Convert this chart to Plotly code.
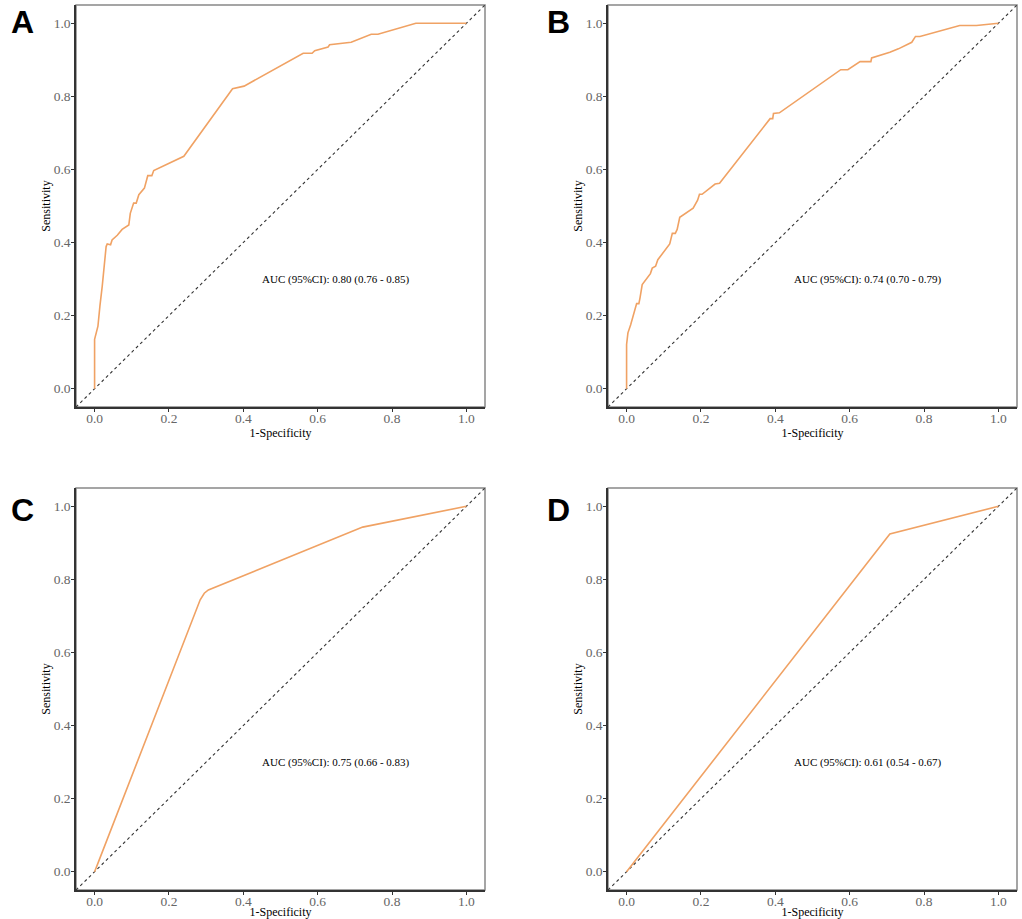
import plotly.graph_objects as go

# ---- data ----
a_fpr = [0, 0, 0.009, 0.0125, 0.0143, 0.0205, 0.028, 0.031, 0.034, 0.043, 0.047, 0.061, 0.074, 0.092,
         0.096, 0.105, 0.112, 0.119, 0.134, 0.143, 0.154, 0.159, 0.24, 0.371, 0.402, 0.561, 0.585,
         0.592, 0.628, 0.632, 0.69, 0.744, 0.762, 0.864, 1.0]
a_tpr = [0, 0.135, 0.171, 0.22, 0.226, 0.28, 0.352, 0.389, 0.396, 0.394, 0.407, 0.42, 0.436, 0.448,
         0.48, 0.508, 0.508, 0.531, 0.549, 0.583, 0.583, 0.597, 0.636, 0.821, 0.828, 0.918, 0.918,
         0.925, 0.935, 0.941, 0.948, 0.97, 0.97, 1.0, 1.0]

b_fpr = [0, 0, 0.0036, 0.011, 0.027, 0.033, 0.036, 0.039, 0.042, 0.064, 0.069, 0.078, 0.084, 0.116,
         0.123, 0.131, 0.136, 0.143, 0.179, 0.191, 0.196, 0.203, 0.238, 0.25, 0.386, 0.393, 0.395,
         0.411, 0.576, 0.595, 0.626, 0.628, 0.657, 0.659, 0.708, 0.731, 0.767, 0.777, 0.789, 0.896,
         0.941, 1.0]
b_tpr = [0, 0.121, 0.153, 0.175, 0.233, 0.233, 0.248, 0.262, 0.285, 0.315, 0.33, 0.335, 0.353, 0.396,
         0.425, 0.425, 0.436, 0.469, 0.494, 0.516, 0.532, 0.532, 0.56, 0.562, 0.739, 0.739, 0.753,
         0.755, 0.873, 0.873, 0.894, 0.895, 0.895, 0.905, 0.921, 0.93, 0.948, 0.964, 0.964, 0.994,
         0.994, 1.0]

c_fpr = [0, 0.007, 0.284, 0.295, 0.306, 0.721, 1.0]
c_tpr = [0, 0.018, 0.744, 0.762, 0.771, 0.943, 1.0]

d_fpr = [0, 0.708, 1.0]
d_tpr = [0, 0.924, 1.0]

panel_letters = ["A", "B", "C", "D"]
auc_labels = ["AUC (95%CI): 0.80 (0.76 - 0.85)",
              "AUC (95%CI): 0.74 (0.70 - 0.79)",
              "AUC (95%CI): 0.75 (0.66 - 0.83)",
              "AUC (95%CI): 0.61 (0.54 - 0.67)"]
tick_vals = [0.0, 0.2, 0.4, 0.6, 0.8, 1.0]
tick_text = ["0.0", "0.2", "0.4", "0.6", "0.8", "1.0"]

curves = [(a_fpr, a_tpr), (b_fpr, b_tpr), (c_fpr, c_tpr), (d_fpr, d_tpr)]

W, H = 1022, 919
x_doms = [[76 / W, 485 / W], [608 / W, 1017 / W]]
y_doms = [[1 - 407 / H, 1 - 5 / H], [1 - 890 / H, 1 - 488 / H]]

ORANGE = "#F0A264"
SERIF = "Liberation Serif, Times New Roman, serif"

fig = go.Figure()
layout = dict(width=W, height=H, margin=dict(l=0, r=0, t=0, b=0),
              paper_bgcolor="white", plot_bgcolor="white", showlegend=False)
annotations = []
shapes = []

for i, (fx, fy) in enumerate(curves):
    r, c = divmod(i, 2)
    n = "" if i == 0 else str(i + 1)
    xa, ya = "x" + n, "y" + n
    # diagonal reference line
    fig.add_trace(go.Scatter(x=[-0.05, 1.05], y=[-0.05, 1.05], mode="lines",
                             line=dict(color="#333333", width=1.1, dash="3px,3px"),
                             xaxis=xa, yaxis=ya, hoverinfo="skip"))
    fig.add_trace(go.Scatter(x=fx, y=fy, mode="lines",
                             line=dict(color=ORANGE, width=1.6),
                             xaxis=xa, yaxis=ya))
    axis_common = dict(range=[-0.05, 1.05], tickvals=tick_vals, ticktext=tick_text,
                       showgrid=False, zeroline=False, showline=True, linecolor="#333333",
                       linewidth=1.5, ticks="outside", ticklen=3, tickwidth=1, tickcolor="#333333",
                       tickfont=dict(family=SERIF, size=13.5, color="#666666"))
    layout["xaxis" + n] = dict(axis_common, domain=x_doms[c], anchor=ya, ticklabelstandoff=-5,
                               title=dict(text="1-Specificity", standoff=0,
                                          font=dict(family=SERIF, size=12, color="black")))
    layout["yaxis" + n] = dict(axis_common, domain=y_doms[r], anchor=xa, ticklabelstandoff=-2,
                               title=dict(text="Sensitivity", standoff=0,
                                          font=dict(family=SERIF, size=12, color="black")))
    # full gray frame
    shapes.append(dict(type="rect", xref=xa + " domain", yref=ya + " domain",
                       x0=0, x1=1, y0=0, y1=1, line=dict(color="#888888", width=1.5),
                       layer="below"))
    annotations.append(dict(x=0.65, y=0.3, xref=xa, yref=ya, text=auc_labels[i],
                            showarrow=False, font=dict(family=SERIF, size=11, color="black")))
    # panel letter
    lx = [22 / W, 558 / W][c]
    ly = [1 - 22 / H, 1 - 510 / H][r]
    annotations.append(dict(x=lx, y=ly, xref="paper", yref="paper", text="<b>%s</b>" % panel_letters[i],
                            showarrow=False, xanchor="center", yanchor="middle",
                            font=dict(family="Liberation Sans, Arial, sans-serif", size=32, color="black")))

layout["annotations"] = annotations
layout["shapes"] = shapes
fig.update_layout(**layout)
fig.write_html("out.html", config={"displayModeBar": False},
               post_script="document.body.style.margin='0px';")
